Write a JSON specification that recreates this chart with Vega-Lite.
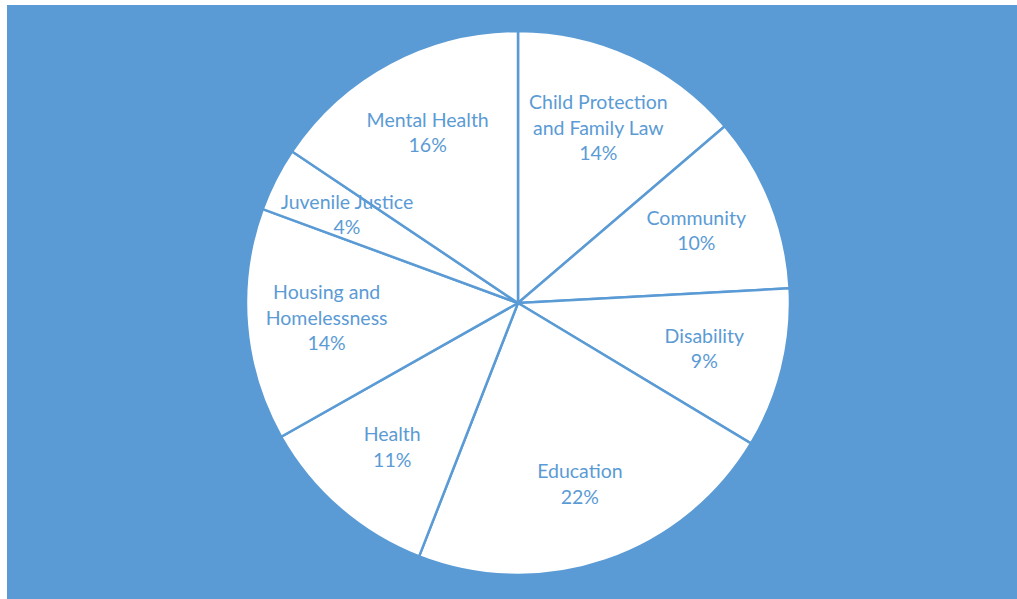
{
  "$schema": "https://vega.github.io/schema/vega-lite/v6.json",
  "width": 1022,
  "height": 596,
  "autosize": {"type": "none"},
  "padding": {"left": 7, "top": 5, "right": -12, "bottom": -2},
  "background": "white",
  "view": {"fill": "#5b9bd5", "stroke": null},
  "data": {
    "values": [
      {"category": "Child Protection and Family Law", "share": 13.75, "label": "Child Protection\nand Family Law\n14%"},
      {"category": "Community", "share": 10.4, "label": "Community\n10%"},
      {"category": "Disability", "share": 9.5, "label": "Disability\n9%"},
      {"category": "Education", "share": 22.3, "label": "Education\n22%"},
      {"category": "Health", "share": 10.9, "label": "Health\n11%"},
      {"category": "Housing and Homelessness", "share": 13.8, "label": "Housing and\nHomelessness\n14%"},
      {"category": "Juvenile Justice", "share": 3.8, "label": "Juvenile Justice\n4%"},
      {"category": "Mental Health", "share": 15.6, "label": "Mental Health\n16%"}
    ]
  },
  "encoding": {
    "theta": {"field": "share", "type": "quantitative", "stack": true}
  },
  "layer": [
    {
      "mark": {"type": "arc", "outerRadius": 272, "fill": "white", "stroke": "#5b9bd5", "strokeWidth": 2.5}
    },
    {
      "mark": {"type": "text", "radius": 192, "dy": -12.75, "lineBreak": "\n", "font": "Lato", "fontSize": 19.5, "lineHeight": 25.5, "fill": "#5b9bd5", "align": "center", "baseline": "middle"},
      "encoding": {
        "text": {
          "condition": {"test": "indexof(datum.label, '\\n') == lastindexof(datum.label, '\\n')", "field": "label", "type": "nominal"},
          "value": ""
        }
      }
    },
    {
      "mark": {"type": "text", "radius": 192, "dy": -25.5, "lineBreak": "\n", "font": "Lato", "fontSize": 19.5, "lineHeight": 25.5, "fill": "#5b9bd5", "align": "center", "baseline": "middle"},
      "encoding": {
        "text": {
          "condition": {"test": "indexof(datum.label, '\\n') != lastindexof(datum.label, '\\n')", "field": "label", "type": "nominal"},
          "value": ""
        }
      }
    }
  ]
}
